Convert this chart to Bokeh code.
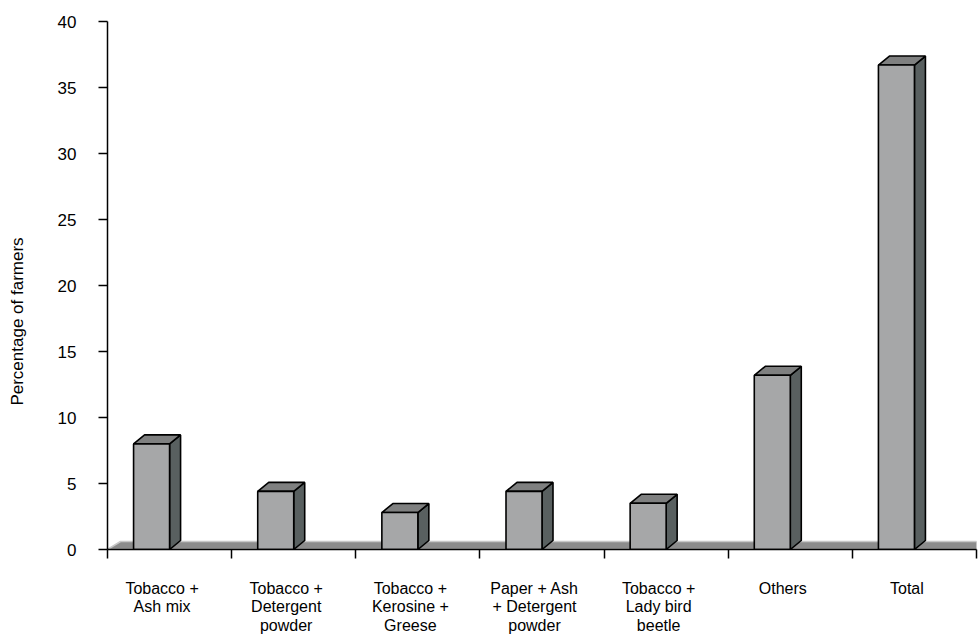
import math
from bokeh.plotting import figure
from bokeh.layouts import row
from bokeh.models import FixedTicker, Range1d
from bokeh.core.properties import value
from bokeh.embed import file_html
from bokeh.resources import INLINE

categories = ["Tobacco +\nAsh mix", "Tobacco +\nDetergent\npowder",
              "Tobacco +\nKerosine +\nGreese", "Paper + Ash\n+ Detergent\npowder",
              "Tobacco +\nLady bird\nbeetle", "Others", "Total"]
values = [8.0, 4.4, 2.8, 4.4, 3.5, 13.2, 36.7]
y_ticks = [0, 5, 10, 15, 20, 25, 30, 35, 40]
y_label = "Percentage of farmers"

TOTAL_W, H = 978, 636
LW = 34                      # width of the strip holding the y-axis title
W = TOTAL_W - LW
BL, BR, BT, BB = 107 - LW, 2, 21, 87
FW = W - BL - BR
FH = H - BT - BB
n = len(categories)
YMAX = 40
ux = n / FW        # data units per pixel (x)
uy = YMAX / FH     # data units per pixel (y)

# ---- y-axis title strip (same vertical frame as the chart) ----
lab = figure(width=LW, height=H, output_backend="svg", toolbar_location=None,
             x_range=Range1d(0, LW), y_range=Range1d(0, YMAX),
             x_axis_location=None, y_axis_location=None,
             min_border_left=0, min_border_right=0, min_border_top=BT,
             min_border_bottom=BB, background_fill_color="white",
             border_fill_color="white")
lab.outline_line_color = None
lab.grid.visible = False
lab.text(x=[LW / 2], y=[228 * uy], text=[y_label], angle=math.pi / 2,
         text_align="center", text_baseline="middle",
         text_font=value("Liberation Sans"), text_font_size=value("17px"),
         text_color="black")

# ---- main chart ----
p = figure(width=W, height=H, output_backend="svg", toolbar_location=None,
           x_range=Range1d(0, n), y_range=Range1d(0, YMAX),
           min_border_left=BL, min_border_right=BR, min_border_top=BT,
           min_border_bottom=BB, background_fill_color="white",
           border_fill_color="white")
p.outline_line_color = None
p.xgrid.visible = False
p.ygrid.visible = False

# floor
fdx, fdy = 13 * ux, 8 * uy
p.patch([0, n, n + fdx, fdx], [0, 0, fdy, fdy], fill_color="#8C8C8C",
        line_color="#C8C8C8", line_width=1.5)

# 3D bars
bw = 36 * ux
dx, dy = 11 * ux, 9 * uy
lefts = [i + 0.5 - bw for i in range(n)]
rights = [i + 0.5 for i in range(n)]
top_xs = [[l, r, r + dx, l + dx] for l, r in zip(lefts, rights)]
top_ys = [[v, v, v + dy, v + dy] for v in values]
side_xs = [[r, r + dx, r + dx, r] for r in rights]
side_ys = [[0, dy, v + dy, v] for v in values]

p.patches(side_xs, side_ys, fill_color="#596060", line_color="black", line_width=1.6)
p.patches(top_xs, top_ys, fill_color="#7F8080", line_color="black", line_width=1.6)
p.quad(left=lefts, right=rights, bottom=0, top=values, fill_color="#A6A7A8",
       line_color="black", line_width=1.6)

# x axis
lab_pos = [i + 0.5 - 7.5 * ux for i in range(n)]
xa = p.xaxis[0]
xa.ticker = FixedTicker(ticks=lab_pos, minor_ticks=list(range(n + 1)))
xa.major_label_overrides = {t: c for t, c in zip(lab_pos, categories)}
xa.major_tick_out = 0
xa.major_tick_in = 0
xa.major_tick_line_color = None
xa.minor_tick_out = 9
xa.minor_tick_in = 0
xa.minor_tick_line_color = "black"
xa.minor_tick_line_width = 1.5
xa.axis_line_color = "black"
xa.axis_line_width = 1.5
xa.major_label_standoff = 21
xa.major_label_text_font = "Liberation Sans"
xa.major_label_text_font_size = "16px"
xa.major_label_text_color = "black"
xa.major_label_text_line_height = 1.1

# y axis
ya = p.yaxis[0]
ya.ticker = FixedTicker(ticks=y_ticks)
ya.major_tick_out = 9
ya.major_tick_in = 0
ya.minor_tick_out = 0
ya.minor_tick_in = 0
ya.major_tick_line_color = "black"
ya.major_tick_line_width = 1.5
ya.axis_line_color = "black"
ya.axis_line_width = 1.5
ya.major_label_standoff = 22
ya.major_label_text_font = "Liberation Sans"
ya.major_label_text_font_size = "17px"
ya.major_label_text_color = "black"

layout = row(lab, p, spacing=0)
open("out.html", "w").write(file_html(layout, INLINE))
